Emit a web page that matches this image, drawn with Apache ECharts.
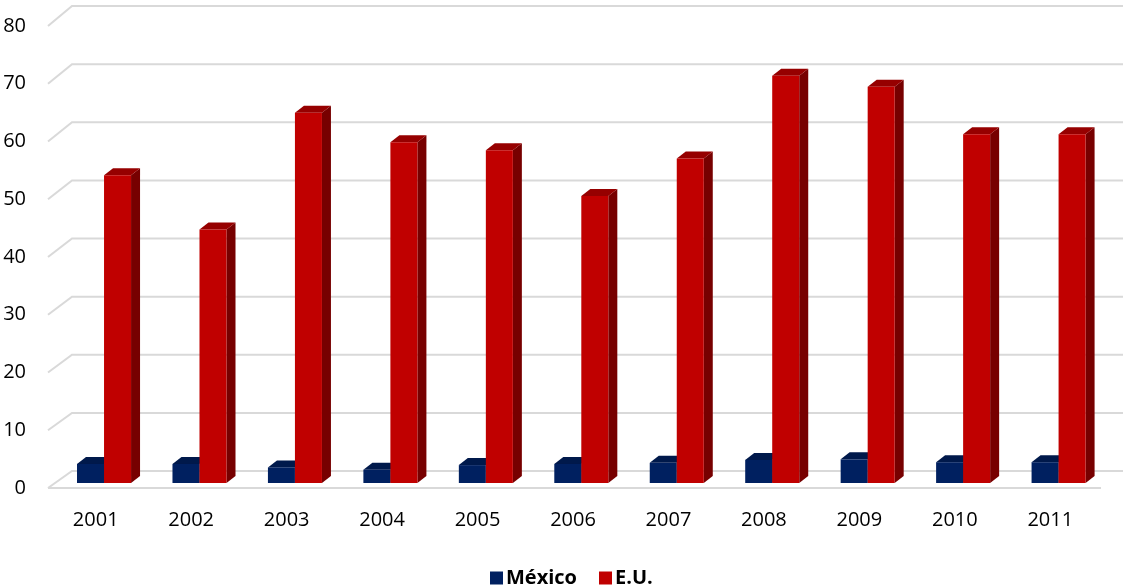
<!DOCTYPE html>
<html>
<head>
<meta charset="utf-8">
<script src="https://cdn.jsdelivr.net/npm/echarts@6/dist/echarts.min.js"></script>
<style>
  html, body { margin: 0; padding: 0; background: #ffffff; }
  #chart { width: 1123px; height: 588px; }
</style>
</head>
<body>
<div id="chart"></div>
<script>
// Years on the category axis
const years = ['2001', '2002', '2003', '2004', '2005', '2006', '2007', '2008', '2009', '2010', '2011'];
// Series values
const mexico = [3.3, 3.3, 2.7, 2.3, 3.1, 3.3, 3.5, 4.0, 4.1, 3.6, 3.6];
const eu = [53.3, 43.9, 64.1, 59.0, 57.6, 49.7, 56.2, 70.5, 68.6, 60.4, 60.4];
// Value-axis ticks
const yTicks = [0, 10, 20, 30, 40, 50, 60, 70, 80];

const FONT = '"Open Sans", "Noto Sans", sans-serif';

// Perspective offsets for the pseudo-3D look
const WALL_DX = 24;           // back wall shift right
const WALL_DY0 = -17;         // back wall shift up at value 0
const WALL_DY_EXTRA = -3;     // extra shift up at the top value
const BAR_PLANE_DY = -5;      // bars sit a little behind the front edge
const BAR_DEPTH_DX = 9;       // bar depth
const BAR_DEPTH_DY = -7;

function shade(hex, f) {
  const n = parseInt(hex.slice(1), 16);
  const r = Math.round(((n >> 16) & 255) * f);
  const g = Math.round(((n >> 8) & 255) * f);
  const b = Math.round((n & 255) * f);
  return 'rgb(' + r + ',' + g + ',' + b + ')';
}

// Back-wall gridlines with the short diagonal on the side wall
function renderGrid(params, api) {
  const cs = params.coordSys;
  const v = api.value(0);
  const y = api.coord([0, v])[1];
  const dy = WALL_DY0 + WALL_DY_EXTRA * (v / 80);
  const x0 = cs.x;
  const style = { stroke: '#d9d9d9', lineWidth: 2, fill: null };
  const children = [{
    type: 'polyline',
    shape: { points: [[x0, y], [x0 + WALL_DX, y + dy], [api.getWidth(), y + dy]] },
    style: style,
    silent: true
  }];
  if (v === 0) {
    children.push({
      type: 'line',
      shape: { x1: x0, y1: y, x2: cs.x + cs.width + 3, y2: y },
      style: style,
      silent: true
    });
  }
  return { type: 'group', children: children };
}

function makeBarRenderer(color, offsetFrac) {
  return function (params, api) {
    const idx = api.value(0);
    const val = api.value(1);
    const band = api.size([1, 0])[0];
    const w = band * 0.283;
    const top = api.coord([idx, val]);
    const base = api.coord([idx, 0]);
    const xL = top[0] + band * offsetFrac;
    const xR = xL + w;
    const yT = top[1] + BAR_PLANE_DY;
    const yB = base[1] + BAR_PLANE_DY;
    const dx = BAR_DEPTH_DX, dy = BAR_DEPTH_DY;
    return {
      type: 'group',
      children: [
        {
          type: 'polygon',
          shape: { points: [[xR, yT], [xR + dx, yT + dy], [xR + dx, yB + dy], [xR, yB]] },
          style: { fill: shade(color, 0.62) }
        },
        {
          type: 'polygon',
          shape: { points: [[xL, yT], [xL + dx, yT + dy], [xR + dx, yT + dy], [xR, yT]] },
          style: { fill: shade(color, 0.78) }
        },
        {
          type: 'rect',
          shape: { x: xL, y: yT, width: w, height: yB - yT },
          style: { fill: color }
        }
      ]
    };
  };
}

const chart = echarts.init(document.getElementById('chart'), null, { renderer: 'canvas' });

chart.setOption({
  backgroundColor: '#ffffff',
  animation: false,
  grid: { left: 48, right: 25, top: 26, bottom: 100, containLabel: false },
  legend: {
    top: 563,
    left: 485,
    icon: 'rect',
    itemWidth: 13,
    itemHeight: 13,
    itemGap: 22,
    data: ['México', 'E.U.'],
    textStyle: { fontFamily: FONT, fontSize: 20, fontWeight: 'bold', color: '#000000', padding: [0, 0, 0, -2] }
  },
  xAxis: {
    type: 'category',
    data: years,
    axisLine: { show: false },
    axisTick: { show: false },
    axisLabel: { margin: 22, fontFamily: FONT, fontSize: 20, color: '#000000' }
  },
  yAxis: {
    type: 'value',
    min: 0,
    max: 80,
    interval: 10,
    axisLine: { show: false },
    axisTick: { show: false },
    splitLine: { show: false },
    axisLabel: { margin: 22, fontFamily: FONT, fontSize: 20, color: '#000000' }
  },
  series: [
    {
      type: 'custom',
      name: 'gridlines',
      silent: true,
      z: 0,
      renderItem: renderGrid,
      encode: { y: 0 },
      data: yTicks.map(v => [v])
    },
    {
      type: 'custom',
      name: 'México',
      itemStyle: { color: '#002060' },
      z: 2,
      renderItem: makeBarRenderer('#002060', -0.196),
      encode: { x: 0, y: 1 },
      data: mexico.map((v, i) => [i, v])
    },
    {
      type: 'custom',
      name: 'E.U.',
      itemStyle: { color: '#C00000' },
      z: 3,
      renderItem: makeBarRenderer('#C00000', 0.087),
      encode: { x: 0, y: 1 },
      data: eu.map((v, i) => [i, v])
    }
  ]
});
</script>
</body>
</html>
